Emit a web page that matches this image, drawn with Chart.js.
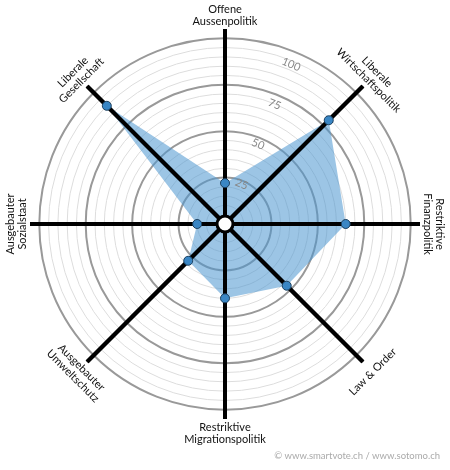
<!DOCTYPE html>
<html>
<head>
<meta charset="utf-8">
<script src="https://cdn.jsdelivr.net/npm/chart.js@4/dist/chart.umd.min.js"></script>
<style>
  body { margin: 0; background: #fff; }
</style>
</head>
<body>
<canvas id="spider" width="450" height="470"></canvas>
<script>
// axes of the smartspider, clockwise from top
var axes = [
  ['Offene', 'Aussenpolitik'],
  ['Liberale', 'Wirtschaftspolitik'],
  ['Restriktive', 'Finanzpolitik'],
  ['Law & Order'],
  ['Restriktive', 'Migrationspolitik'],
  ['Ausgebauter', 'Umweltschutz'],
  ['Ausgebauter', 'Sozialstaat'],
  ['Liberale', 'Gesellschaft']
];
var scores = [22, 79, 65, 47, 40, 28, 15, 90];
var tickLabels = [25, 50, 75, 100];
var credit = '\u00a9 www.smartvote.ch / www.sotomo.ch';

var FONT = 'Lato, "Open Sans", sans-serif';

// labels along the circle, tick numbers, center knob
var spiderExtras = {
  id: 'spiderExtras',
  // runs after the filler has painted the area, before the points
  beforeDatasetDraw: function (chart) {
    var ctx = chart.ctx;
    var s = chart.scales.r;
    ctx.save();
    ctx.strokeStyle = '#000';
    ctx.lineWidth = 4;
    chart.data.labels.forEach(function (l, i) {
      var p = s.getPointPosition(i, s.drawingArea);
      ctx.beginPath();
      ctx.moveTo(s.xCenter, s.yCenter);
      ctx.lineTo(p.x, p.y);
      ctx.stroke();
    });
    ctx.restore();
  },
  afterDatasetsDraw: function (chart) {
    var ctx = chart.ctx;
    var s = chart.scales.r;
    // white knob in the middle
    ctx.save();
    ctx.beginPath();
    ctx.arc(s.xCenter, s.yCenter, 8, 0, Math.PI * 2);
    ctx.fillStyle = '#fff';
    ctx.fill();
    ctx.lineWidth = 3;
    ctx.strokeStyle = '#000';
    ctx.stroke();
    ctx.restore();
  },
  afterDraw: function (chart) {
    var ctx = chart.ctx;
    var s = chart.scales.r;

    // axis labels, rotated along the circle
    ctx.save();
    ctx.font = '11px ' + FONT;
    ctx.fillStyle = '#111';
    ctx.textAlign = 'center';
    ctx.textBaseline = 'middle';
    chart.data.labels.forEach(function (lines, i) {
      var a = s.getIndexAngle(i);
      var p = s.getPointPosition(i, 209);
      var rot = a;
      if (a > Math.PI / 2 + 0.01 && a < Math.PI * 1.5 - 0.01) rot = a - Math.PI;
      ctx.save();
      ctx.translate(p.x, p.y);
      ctx.rotate(rot);
      var lh = 12;
      var y0 = -(lines.length - 1) * lh / 2;
      lines.forEach(function (t, k) {
        ctx.fillText(t, 0, y0 + k * lh);
      });
      ctx.restore();
    });
    ctx.restore();

    // tick numbers between the first two axes
    ctx.save();
    ctx.font = '11px ' + FONT;
    ctx.fillStyle = '#888';
    ctx.textAlign = 'center';
    ctx.textBaseline = 'middle';
    var ta = Math.PI / 8;
    tickLabels.forEach(function (v) {
      var r = s.getDistanceFromCenterForValue(v) * 0.93;
      ctx.save();
      ctx.translate(s.xCenter + r * Math.sin(ta), s.yCenter - r * Math.cos(ta));
      ctx.rotate(ta);
      ctx.fillText(String(v), 0, 0);
      ctx.restore();
    });
    ctx.restore();

    // credit line
    ctx.save();
    ctx.font = '9.5px ' + FONT;
    ctx.fillStyle = '#aaa';
    ctx.textAlign = 'right';
    ctx.textBaseline = 'middle';
    ctx.fillText(credit, 440, 456);
    ctx.restore();
  }
};

new Chart(document.getElementById('spider'), {
  type: 'radar',
  data: {
    labels: axes,
    datasets: [{
      data: scores,
      fill: true,
      backgroundColor: 'rgba(75,150,207,0.55)',
      borderWidth: 0,
      pointRadius: 4.5,
      pointBackgroundColor: '#3a86c4',
      pointBorderColor: '#1b3f5e',
      pointBorderWidth: 1
    }]
  },
  options: {
    responsive: false,
    animation: false,
    layout: {
      padding: { left: 30, right: 30, top: 29, bottom: 51 }
    },
    plugins: {
      legend: { display: false },
      tooltip: { enabled: false }
    },
    scales: {
      r: {
        min: 0,
        max: 105,
        ticks: { display: false, stepSize: 5 },
        pointLabels: { display: false },
        angleLines: { color: '#000', lineWidth: 4 },
        grid: {
          circular: true,
          color: function (c) {
            var v = c.tick.value;
            if (v > 100) return 'rgba(0,0,0,0)';
            return v % 25 === 0 ? '#999' : '#ddd';
          },
          lineWidth: function (c) {
            return c.tick.value % 25 === 0 ? 2 : 1;
          }
        }
      }
    }
  },
  plugins: [spiderExtras]
});
</script>
</body>
</html>
